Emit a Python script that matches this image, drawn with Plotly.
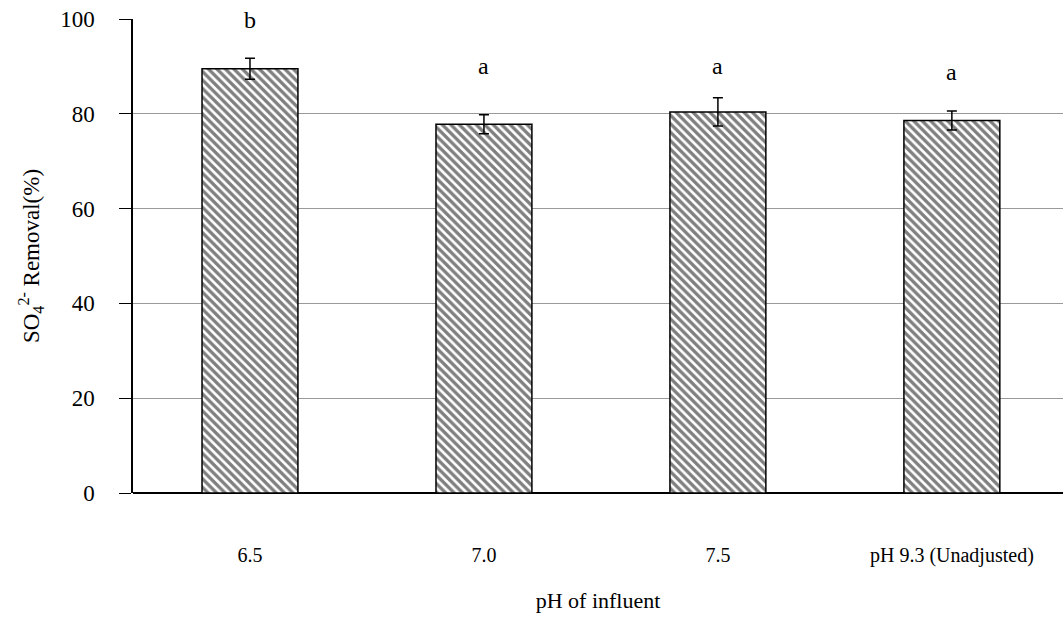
import plotly.graph_objects as go

categories = ["6.5", "7.0", "7.5", "pH 9.3 (Unadjusted)"]
removal = [89.5, 77.8, 80.4, 78.6]
err = [2.2, 2.0, 3.0, 2.0]
letters = ["b", "a", "a", "a"]
letter_y = [99.8, 90.0, 90.0, 88.8]

fig = go.Figure()
fig.add_trace(go.Bar(
    x=list(range(len(categories))), y=removal, width=0.41,
    marker=dict(color="white", line=dict(color="black", width=1.5),
                pattern=dict(shape="\\", fgcolor="black", bgcolor="white", size=6, solidity=0.55)),
    error_y=dict(type="data", array=err, color="black", thickness=1.5, width=5),
))
for i, (t, yy) in enumerate(zip(letters, letter_y)):
    fig.add_annotation(x=i, y=yy, text=t, showarrow=False,
                       font=dict(family="Liberation Serif", size=24, color="black"))

fig.update_layout(
    width=1063, height=630, margin=dict(l=133, r=0, t=19, b=137),
    plot_bgcolor="white", paper_bgcolor="white", showlegend=False,
    font=dict(family="Liberation Serif", size=22, color="black"),
    xaxis=dict(range=[-0.5, 3.475], tickmode="array", tickvals=list(range(len(categories))),
               ticktext=categories, showline=False, showgrid=False, ticks="",
               ticklabelstandoff=48, tickfont=dict(size=20),
               title=dict(text="pH of influent", standoff=26, font=dict(size=22))),
    yaxis=dict(range=[0, 100], tickvals=[0, 20, 40, 60, 80, 100], showline=True, linecolor="black",
               linewidth=1.5, ticks="outside", ticklen=12, tickcolor="black",
               ticklabelstandoff=20,
               gridcolor="#999999", gridwidth=1, zeroline=True, zerolinecolor="black", zerolinewidth=1.5,
               tickfont=dict(size=23),
               title=dict(text="SO<sub>4</sub><sup>2-</sup> Removal(%)", standoff=14, font=dict(size=23))),
)
fig.write_html("out.html")
